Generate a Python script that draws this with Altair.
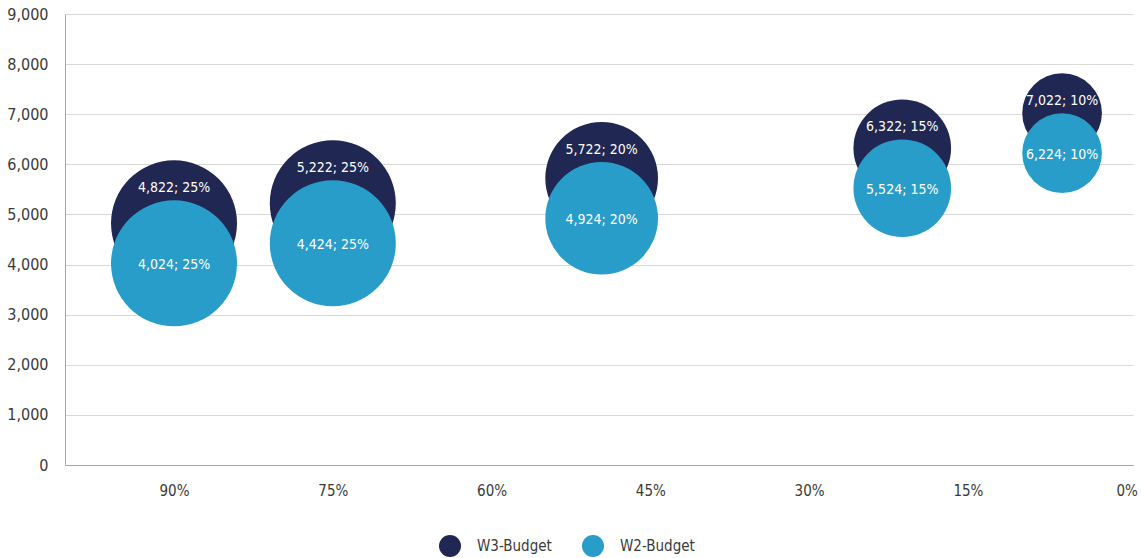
import altair as alt
import pandas as pd

# --- data ---
series = ["W3-Budget"] * 5 + ["W2-Budget"] * 5
x_share = [90, 75, 49.6, 21.2, 6.1, 90, 75, 49.6, 21.2, 6.1]
values = [4822, 5222, 5722, 6322, 7022, 4024, 4424, 4924, 5524, 6224]
sizes = [25, 25, 20, 15, 10, 25, 25, 20, 15, 10]
x_ticks = [90, 75, 60, 45, 30, 15, 0]
y_ticks = [0, 1000, 2000, 3000, 4000, 5000, 6000, 7000, 8000, 9000]
series_order = ["W3-Budget", "W2-Budget"]
colors = ["#1f2752", "#289dc9"]

df = pd.DataFrame({"series": series, "x": x_share, "value": values, "size": sizes,
                   "order": [0] * 5 + [1] * 5})

FONT = "DejaVu Sans Condensed"
W, H = 1068, 451
SIZE_MAX = 15876  # vega symbol size (bounding-square area) for the 25% bubble

xs = alt.Scale(domain=[100.3, -0.6], nice=False, zero=False)
ys = alt.Scale(domain=[0, 9000], nice=False)
ss = alt.Scale(domain=[0, 25], range=[0, SIZE_MAX])

base = alt.Chart(df)

bubbles = base.mark_circle(opacity=1).encode(
    x=alt.X("x:Q", scale=xs, title=None,
            axis=alt.Axis(values=x_ticks, labelExpr="datum.value + '%'", grid=False,
                          ticks=False, labelPadding=18, labelFontSize=15,
                          labelFlush=True, domainColor="#a6a6a6",
                          labelColor="#3a3a3a", labelFont=FONT)),
    y=alt.Y("value:Q", scale=ys, title=None,
            axis=alt.Axis(values=y_ticks, format=",d", grid=True, gridColor="#d9d9d9",
                          ticks=False, labelPadding=17, labelFontSize=16,
                          domainColor="#a6a6a6", labelColor="#3a3a3a", labelFont=FONT)),
    size=alt.Size("size:Q", scale=ss, legend=None),
    color=alt.Color("series:N", scale=alt.Scale(domain=series_order, range=colors),
                    title=None,
                    legend=alt.Legend(orient="none", legendX=374, legendY=521,
                                      direction="horizontal", symbolType="circle",
                                      symbolSize=484, symbolOpacity=1,
                                      symbolStrokeWidth=0,
                                      labelFontSize=15, labelFont=FONT,
                                      labelColor="#3a3a3a", labelOffset=16,
                                      columnPadding=30)),
    order=alt.Order("order:Q"),
)

label_w3 = base.transform_filter(alt.datum.series == "W3-Budget").transform_calculate(
    ly=f"datum.value + (sqrt(datum.size*{SIZE_MAX}/25)/2 - 28) * 9000 / {H}",
    lab="format(datum.value, ',') + '; ' + datum.size + '%'",
).mark_text(color="white", fontSize=14, font=FONT, baseline="middle").encode(
    x=alt.X("x:Q", scale=xs), y=alt.Y("ly:Q", scale=ys), text="lab:N")

label_w2 = base.transform_filter(alt.datum.series == "W2-Budget").transform_calculate(
    lab="format(datum.value, ',') + '; ' + datum.size + '%'",
).mark_text(color="white", fontSize=14, font=FONT, baseline="middle", dy=2).encode(
    x=alt.X("x:Q", scale=xs), y=alt.Y("value:Q", scale=ys), text="lab:N")

chart = alt.layer(bubbles, label_w3, label_w2).properties(
    width=W, height=H,
    autosize=alt.AutoSizeParams(type="none"),
    padding={"left": 65, "top": 14, "right": 8, "bottom": 93},
).configure_view(stroke=None)

chart.save("out.html", embed_options={"renderer": "svg", "actions": False})
